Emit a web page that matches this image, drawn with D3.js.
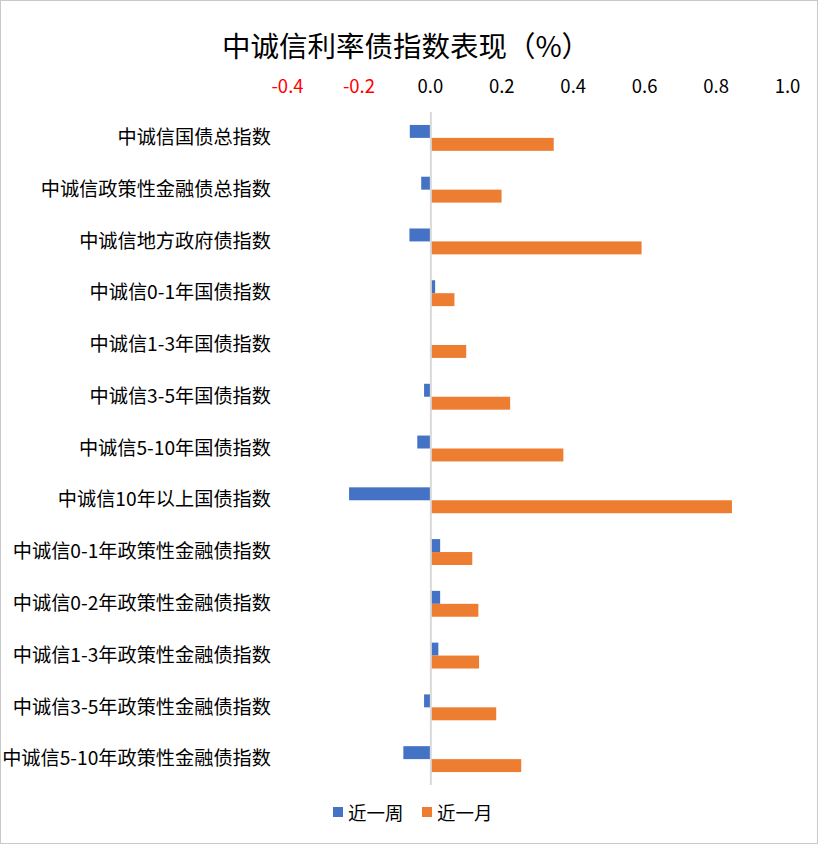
<!DOCTYPE html>
<html><head><meta charset="utf-8">
<script src="https://cdn.jsdelivr.net/npm/d3@7"></script>
<style>
html,body{margin:0;padding:0;background:#fff;}
svg{display:block;font-family:"Noto Sans CJK SC","Microsoft YaHei",sans-serif;}
</style></head>
<body>
<svg id="chart" width="818" height="844"></svg>
<script>
const categories = [
  "中诚信国债总指数",
  "中诚信政策性金融债总指数",
  "中诚信地方政府债指数",
  "中诚信0-1年国债指数",
  "中诚信1-3年国债指数",
  "中诚信3-5年国债指数",
  "中诚信5-10年国债指数",
  "中诚信10年以上国债指数",
  "中诚信0-1年政策性金融债指数",
  "中诚信0-2年政策性金融债指数",
  "中诚信1-3年政策性金融债指数",
  "中诚信3-5年政策性金融债指数",
  "中诚信5-10年政策性金融债指数"
];
const seriesNames = ["近一周", "近一月"];
const weekValues  = [-0.059, -0.027, -0.060, 0.012, 0.000, -0.019, -0.038, -0.229, 0.026, 0.026, 0.021, -0.019, -0.077];
const monthValues = [0.344, 0.198, 0.590, 0.066, 0.099, 0.222, 0.371, 0.843, 0.116, 0.133, 0.135, 0.183, 0.253];
const tickValues = [-0.4, -0.2, 0.0, 0.2, 0.4, 0.6, 0.8, 1.0];
const title = "中诚信利率债指数表现（%）";
const colors = ["#4472C4", "#ED7D31"];

const svg = d3.select("#chart");
const W = 818, H = 844;

svg.append("rect").attr("x",0.5).attr("y",0.5).attr("width",W-1).attr("height",H-1)
  .attr("fill","#fff").attr("stroke","#c9c9c9").attr("stroke-width",1);

const plot = {left: 288, right: 788, top: 112, bottom: 785};

const x = d3.scaleLinear().domain([-0.4, 1.0]).range([plot.left, plot.right]);
const y = d3.scaleBand().domain(categories).range([plot.top, plot.bottom]).padding(0);
const ys = d3.scaleBand().domain(seriesNames).range([0, y.bandwidth()]).paddingInner(0).paddingOuter(1);

// title
svg.append("text").attr("x", 406).attr("y", 44).attr("text-anchor","middle")
  .attr("dominant-baseline","central").attr("font-size", 28.5).attr("fill","#000").text(title);

// top axis
const axis = d3.axisTop(x).tickValues(tickValues).tickSize(0).tickPadding(0)
  .tickFormat(d => d.toFixed(1));
const ax = svg.append("g").attr("transform", `translate(-1, 93)`).call(axis);
ax.select(".domain").remove();
ax.selectAll("text").attr("font-size", 18.5).attr("font-family",'"Noto Sans CJK SC",sans-serif')
  .attr("fill", d => d < 0 ? "#FF0000" : "#000");

// bars
const data = categories.map((c, i) => ({cat: c, vals: [weekValues[i], monthValues[i]]}));
const groups = svg.append("g").selectAll("g").data(data).join("g")
  .attr("transform", d => `translate(0, ${y(d.cat)})`);
groups.selectAll("rect").data(d => d.vals.map((v, j) => ({v, s: seriesNames[j], j})))
  .join("rect")
  .attr("x", d => x(Math.min(0, d.v)))
  .attr("width", d => Math.abs(x(d.v) - x(0)))
  .attr("y", d => ys(d.s))
  .attr("height", ys.bandwidth())
  .attr("fill", d => colors[d.j]);

// zero line
svg.append("line").attr("x1", x(0)).attr("x2", x(0)).attr("y1", plot.top).attr("y2", plot.bottom)
  .attr("stroke", "#d9d9d9").attr("stroke-width", 2);

// category labels
const yAxis = d3.axisLeft(y).tickSize(0).tickPadding(0);
const yg = svg.append("g").attr("transform", `translate(271,0)`).call(yAxis);
yg.select(".domain").remove();
yg.selectAll("text").attr("font-size", 19.2).attr("font-family",'"Noto Sans CJK SC",sans-serif').attr("fill","#000");

// legend
const legend = svg.append("g").attr("transform","translate(0,812)");
const legX = [333, 422];
seriesNames.forEach((n, i) => {
  legend.append("rect").attr("x", legX[i]).attr("y", -5).attr("width", 10).attr("height", 10).attr("fill", colors[i]);
  legend.append("text").attr("x", legX[i] + 15).attr("y", 0).attr("dominant-baseline","central")
    .attr("font-size", 18.5).attr("fill","#000").text(n);
});
</script>
</body></html>
